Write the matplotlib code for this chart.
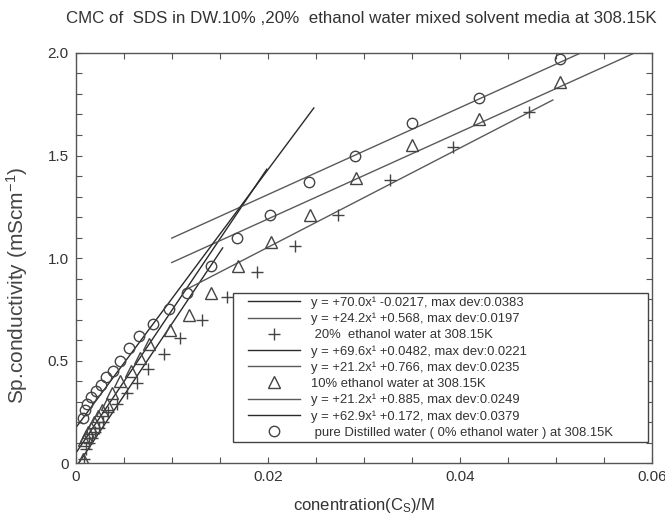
import matplotlib
matplotlib.use("Agg")
import matplotlib.pyplot as plt
import numpy as np
from matplotlib.ticker import MultipleLocator, FixedLocator
from matplotlib.patches import Rectangle

plt.rcParams['font.family'] = ['Liberation Sans', 'DejaVu Sans']
plt.rcParams['mathtext.fontset'] = 'custom'
plt.rcParams['mathtext.rm'] = 'Liberation Sans'
plt.rcParams['mathtext.it'] = 'Liberation Sans'

# ---- data ----
# 20% ethanol water (+)
x20 = [0.0009, 0.0011, 0.0014, 0.0017, 0.0020, 0.0024, 0.0028, 0.0034, 0.0043, 0.0053,
       0.0064, 0.0075, 0.0092, 0.0109, 0.0131, 0.0158, 0.0189, 0.0228, 0.0273, 0.0327,
       0.0393, 0.0472]
y20 = [0.02, 0.07, 0.10, 0.12, 0.15, 0.17, 0.20, 0.25, 0.29, 0.34,
       0.39, 0.46, 0.53, 0.61, 0.70, 0.81, 0.93, 1.06, 1.21, 1.38,
       1.54, 1.71]
# 10% ethanol water (triangles)
x10 = [0.0007, 0.0009, 0.0011, 0.0013, 0.0016, 0.0019, 0.0023, 0.0027, 0.0032, 0.0038,
       0.0046, 0.0057, 0.0067, 0.0076, 0.0098, 0.0118, 0.0141, 0.0169, 0.0203, 0.0244,
       0.0292, 0.0350, 0.0420, 0.0504]
y10 = [0.02, 0.11, 0.13, 0.15, 0.17, 0.20, 0.23, 0.26, 0.29, 0.34,
       0.40, 0.45, 0.51, 0.58, 0.65, 0.72, 0.83, 0.96, 1.08, 1.21,
       1.39, 1.55, 1.68, 1.86]
# pure distilled water (circles)
x0 = [0.0008, 0.0010, 0.0012, 0.0016, 0.0021, 0.0026, 0.0031, 0.0039, 0.0046, 0.0055,
      0.0066, 0.0080, 0.0097, 0.0116, 0.0141, 0.0168, 0.0202, 0.0243, 0.0291, 0.0350,
      0.0420, 0.0504]
y0 = [0.22, 0.26, 0.29, 0.32, 0.35, 0.38, 0.42, 0.45, 0.50, 0.56,
      0.62, 0.68, 0.75, 0.83, 0.96, 1.10, 1.21, 1.37, 1.50, 1.66,
      1.78, 1.97]

# fitted lines: (slope, intercept, x_start, x_end)
fit20_pre = (70.0, -0.0217, 0.0, 0.0153)
fit20_post = (24.2, 0.568, 0.0115, 0.0497)
fit10_pre = (69.6, 0.0482, 0.0, 0.0199)
fit10_post = (21.2, 0.766, 0.0100, 0.0600)
fit0_post = (21.2, 0.885, 0.0100, 0.0600)
fit0_pre = (62.9, 0.172, 0.0, 0.0248)

lab20_pre = "y = +70.0x\u00b9 -0.0217, max dev:0.0383"
lab20_post = "y = +24.2x\u00b9 +0.568, max dev:0.0197"
lab20_pts = " 20%  ethanol water at 308.15K"
lab10_pre = "y = +69.6x\u00b9 +0.0482, max dev:0.0221"
lab10_post = "y = +21.2x\u00b9 +0.766, max dev:0.0235"
lab10_pts = "10% ethanol water at 308.15K"
lab0_post = "y = +21.2x\u00b9 +0.885, max dev:0.0249"
lab0_pre = "y = +62.9x\u00b9 +0.172, max dev:0.0379"
lab0_pts = " pure Distilled water ( 0% ethanol water ) at 308.15K"

title = "CMC of  SDS in DW.10% ,20%  ethanol water mixed solvent media at 308.15K"
xlabel = "conentration(C$_\\mathrm{S}$)/M"
ylabel = "Sp.conductivity (mScm$^{-1}$)"
xticks = [0, 0.02, 0.04, 0.06]
xticklabels = ["0", "0.02", "0.04", "0.06"]
yticks = [0, 0.5, 1.0, 1.5, 2.0]
yticklabels = ["0", "0.5", "1.0", "1.5", "2.0"]

fig = plt.figure(figsize=(6.65, 5.17), dpi=100)
ax = fig.add_axes([0.114, 0.1044, 0.866, 0.7931])

dark = '#2a2a2a'
gray = '#5a5a5a'
mk = '#444444'

def fitline(f, color, label):
    m, b, xa, xb = f
    xs = np.array([xa, xb])
    return ax.plot(xs, m * xs + b, color=color, lw=1.0, label=label)[0]

h1 = fitline(fit20_pre, dark, lab20_pre)
h2 = fitline(fit20_post, gray, lab20_post)
h3 = ax.plot(x20, y20, linestyle='none', marker='+', ms=9, mew=1.0, color=mk, label=lab20_pts)[0]
h4 = fitline(fit10_pre, dark, lab10_pre)
h5 = fitline(fit10_post, gray, lab10_post)
h6 = ax.plot(x10, y10, linestyle='none', marker='^', ms=8, mew=1.0, mfc='none', mec=mk, label=lab10_pts)[0]
h7 = fitline(fit0_post, gray, lab0_post)
h8 = fitline(fit0_pre, dark, lab0_pre)
h9 = ax.plot(x0, y0, linestyle='none', marker='o', ms=7.5, mew=1.0, mfc='none', mec=mk, label=lab0_pts)[0]

ax.set_xlim(0, 0.06)
ax.set_ylim(0, 2.0)
ax.xaxis.set_major_locator(FixedLocator(xticks))
ax.set_xticklabels(xticklabels)
ax.yaxis.set_major_locator(FixedLocator(yticks))
ax.set_yticklabels(yticklabels)
ax.xaxis.set_minor_locator(MultipleLocator(0.005))
ax.yaxis.set_minor_locator(MultipleLocator(0.1))
ax.tick_params(which='both', direction='in', top=True, right=True, length=4,
               width=0.8, color='#555555', labelsize=11, labelcolor='#333333', pad=5)
for s in ax.spines.values():
    s.set_color('#555555')
    s.set_linewidth(1.0)

ax.set_xlabel(xlabel, fontsize=12, color='#333333', labelpad=9)
ax.set_ylabel(ylabel, fontsize=15, color='#444444')
ax.yaxis.set_label_coords(-0.079, 0.434)
fig.text(0.543, 0.965, title, ha='center', va='center', fontsize=12.2, color='#333333')

# legend box (frame drawn separately so its padding can match the reference)
box = Rectangle((0.2726, 0.051), 0.7204, 0.3636, transform=ax.transAxes,
                facecolor='white', edgecolor='#444444', lw=1.0, zorder=4)
ax.add_patch(box)

leg = ax.legend(handles=[h1, h2, h3, h4, h5, h6, h7, h8, h9],
                loc='center left', bbox_to_anchor=(0.2986, 0.2329),
                fontsize=9.4, frameon=False, handlelength=4.0, handletextpad=0.85,
                labelspacing=0.30, borderpad=0.0, borderaxespad=0)
leg.set_zorder(5)
for t in leg.get_texts():
    t.set_color('#333333')

fig.savefig("out.png", dpi=100)
